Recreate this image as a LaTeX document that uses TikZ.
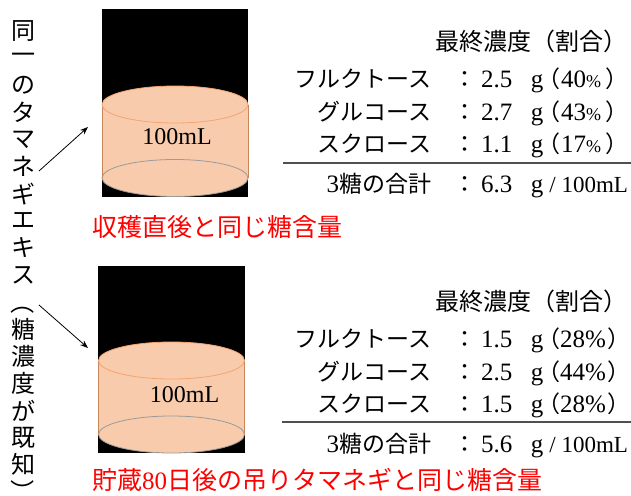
\documentclass[tikz,border=0pt]{standalone}
\usepackage{fontspec}
\usepackage{graphicx}
\setmainfont{Liberation Serif}
\newfontfamily\jp{Noto Sans CJK JP}
\usetikzlibrary{arrows.meta}
\definecolor{cylfill}{HTML}{F8CBAD}
\definecolor{cyltop}{HTML}{F4A470}
\definecolor{cylside}{HTML}{C8875A}
\definecolor{cylbot}{HTML}{9A9A9A}
\definecolor{rulecol}{HTML}{505050}
\newcommand{\mycyl}[5]{% cx, top cy, bottom cy, rx, ry
  \fill[cylfill] (#1-#4,#2) rectangle (#1+#4,#3);
  \fill[cylfill] (#1,#3) ellipse [x radius=#4pt, y radius=#5pt];
  \draw[cylbot, line width=0.8pt] (#1,#3) ellipse [x radius=#4pt, y radius=#5pt];
  \draw[cylside, line width=0.8pt] (#1-#4,#2) -- (#1-#4,#3) (#1+#4,#2) -- (#1+#4,#3);
  \fill[cylfill] (#1,#2) ellipse [x radius=#4pt, y radius=#5pt];
  \draw[cyltop, line width=0.8pt] (#1,#2) ellipse [x radius=#4pt, y radius=#5pt];
}
\newcommand{\lpar}{\makebox[11pt][r]{\jp （}}
\newcommand{\rpar}{\makebox[11pt][l]{\jp ）}}
\begin{document}
\begin{tikzpicture}[x=1pt,y=-1pt,
  vtxt/.style={inner sep=0pt, outer sep=0pt, anchor=center, font=\fontsize{24}{24}\selectfont\jp},
  ttl/.style={inner sep=0pt, outer sep=0pt, anchor=base west, font=\fontsize{24}{24}\selectfont\jp},
  cell/.style={inner sep=0pt, outer sep=0pt, font=\fontsize{23}{23}\selectfont},
  num/.style={inner sep=0pt, outer sep=0pt, font=\fontsize{25}{25}\selectfont},
  red/.style={inner sep=0pt, outer sep=0pt, anchor=base west, text=red, font=\fontsize{25}{25}\selectfont},
  vol/.style={inner sep=0pt, outer sep=0pt, anchor=base, font=\fontsize{24}{24}\selectfont},
  arr/.style={-{Stealth[length=8pt,width=6pt]}, line width=0.8pt},
  rl/.style={rulecol, line width=1.3pt}]
\useasboundingbox (0,0) rectangle (631,495);
\fill[white] (0,0) rectangle (631,495);

% vertical text
\foreach \c [count=\i from 0] in {同,一,の,タ,マ,ネ,ギ,エ,キ,ス}
  \node[vtxt] (v\i) at (23,31+27.1*\i) {\c};
\node[vtxt] (v10) at (23,31+27.1*10) {\rotatebox[origin=c]{-90}{（}};
\foreach \c [count=\i from 11] in {糖,濃,度,が,既,知}
  \node[vtxt] (v\i) at (23,31+27.1*\i) {\c};
\node[vtxt] (v17) at (23,31+27.1*17) {\rotatebox[origin=c]{-90}{）}};

% top container
\fill[black] (102,9) rectangle (248,197);
\mycyl{175}{104.5}{178}{73}{18.5}
\node[vol] (vol1) at (177,144) {100mL};

% bottom container
\fill[black] (98,266) rectangle (245,453);
\mycyl{171.5}{360.5}{434.5}{73}{18.5}
\node[vol] (vol2) at (184.5,402) {100mL};

% arrows
\coordinate (a1s) at (39,171);
\coordinate (a1e) at (88,127);
\coordinate (a2s) at (39,305);
\coordinate (a2e) at (88,348);
\draw[arr] (a1s) -- (a1e);
\draw[arr] (a2s) -- (a2e);

% red captions
\node[red] (cap1) at (92,236) {\jp 収穫直後と同じ糖含量};
\node[red] (cap2) at (92,489) {{\jp 貯蔵}{\rmfamily 80}{\jp 日後の吊りタマネギと同じ糖含量}};

% top table
\node[ttl] (t1) at (435,50) {最終濃度（割合）};
\node[cell, anchor=base east] (t1n1) at (431,87) {\jp フルクトース};
\node[cell, anchor=base east] (t1n2) at (431,120) {\jp グルコース};
\node[cell, anchor=base east] (t1n3) at (431,152) {\jp スクロース};
\node[cell, anchor=base east] (t1n4) at (431,192) {{\fontsize{25}{25}\selectfont 3}{\jp 糖の合計}};
\foreach \y [count=\k] in {87,120,152,192}
  \node[cell, anchor=base] (t1c\k) at (465,\y) {\jp ：};
\node[num, anchor=base west] (t1v1) at (481,87) {2.5};
\node[num, anchor=base west] (t1v2) at (481,120) {2.7};
\node[num, anchor=base west] (t1v3) at (481,152) {1.1};
\node[num, anchor=base west] (t1v4) at (481,192) {6.3};
\foreach \y [count=\k] in {87,120,152,192}
  \node[num, anchor=base] (t1g\k) at (537,\y) {g};
\foreach \y/\p [count=\k] in {87/40,120/43,152/17}{
  \node[cell, anchor=base west] (t1o\k) at (549,\y) {\lpar};
  \node[num, anchor=base] (t1p\k) at (581,\y) {\p{\fontsize{18}{18}\selectfont\%}};
  \node[cell, anchor=base west] (t1q\k) at (605,\y) {\rpar};
}
\node[cell, anchor=base east] (t1u) at (628,192) {/ 100mL};
\coordinate (r1a) at (283,163);
\coordinate (r1b) at (631,163);
\draw[rl] (r1a) -- (r1b);

% bottom table
\node[ttl] (t2) at (435,310) {最終濃度（割合）};
\node[cell, anchor=base east] (t2n1) at (431,347) {\jp フルクトース};
\node[cell, anchor=base east] (t2n2) at (431,380) {\jp グルコース};
\node[cell, anchor=base east] (t2n3) at (431,412) {\jp スクロース};
\node[cell, anchor=base east] (t2n4) at (431,452) {{\fontsize{25}{25}\selectfont 3}{\jp 糖の合計}};
\foreach \y [count=\k] in {347,380,412,452}
  \node[cell, anchor=base] (t2c\k) at (465,\y) {\jp ：};
\node[num, anchor=base west] (t2v1) at (481,347) {1.5};
\node[num, anchor=base west] (t2v2) at (481,380) {2.5};
\node[num, anchor=base west] (t2v3) at (481,412) {1.5};
\node[num, anchor=base west] (t2v4) at (481,452) {5.6};
\foreach \y [count=\k] in {347,380,412,452}
  \node[num, anchor=base] (t2g\k) at (537,\y) {g};
\foreach \y/\p [count=\k] in {347/28,380/44,412/28}{
  \node[cell, anchor=base west] (t2o\k) at (549,\y) {\lpar};
  \node[num, anchor=base] (t2p\k) at (583,\y) {\p\%};
  \node[cell, anchor=base west] (t2q\k) at (607,\y) {\rpar};
}
\node[cell, anchor=base east] (t2u) at (628,452) {/ 100mL};
\coordinate (r2a) at (282,422);
\coordinate (r2b) at (631,422);
\draw[rl] (r2a) -- (r2b);
\end{tikzpicture}
\end{document}
